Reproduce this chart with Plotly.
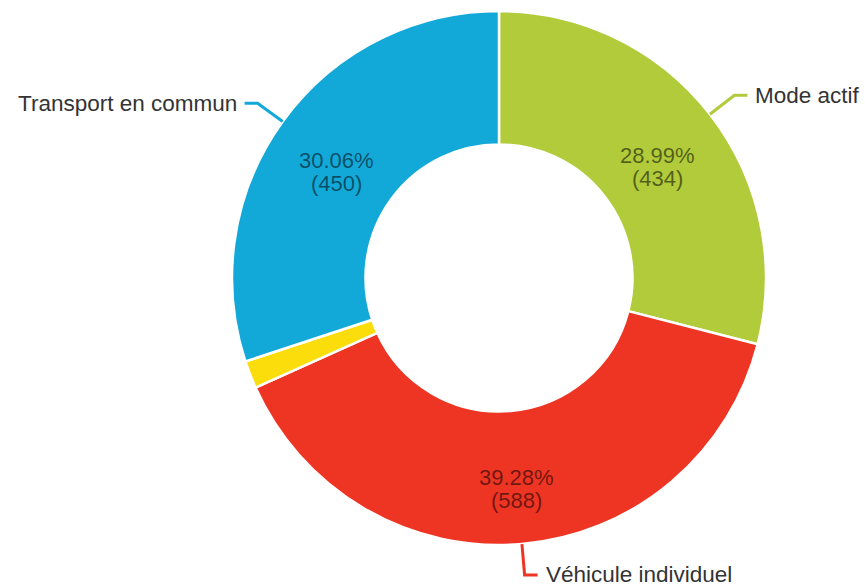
import math
import plotly.graph_objects as go

labels = ["Mode actif", "Véhicule individuel", "Autre", "Transport en commun"]
values = [434, 588, 25, 450]
colors = ["#B1CB3A", "#EE3423", "#FBDD0B", "#12A9D8"]
show_label = [True, True, False, True]

W, H = 865, 587
CX, CY, R = 499, 278, 267  # pie centre and radius in figure pixels
FONT = "Liberation Sans, Arial, sans-serif"

total = sum(values)

fig = go.Figure(go.Pie(
    labels=labels,
    values=values,
    sort=False,
    direction="clockwise",
    rotation=0,
    hole=0.5,
    marker=dict(colors=colors, line=dict(color="white", width=2.5)),
    textinfo="none",
    hoverinfo="label+value+percent",
    showlegend=False,
    domain=dict(x=[(CX - R) / W, (CX + R) / W], y=[1 - (CY + R) / H, 1 - (CY - R) / H]),
))


def px(x, y):
    return x / W, 1 - y / H


shapes = []
annotations = []
cum = 0.0
for lab, v, col, s in zip(labels, values, colors, show_label):
    mid = (cum + v / 2) / total * 2 * math.pi
    cum += v
    if not s:
        continue
    dx, dy = math.sin(mid), -math.cos(mid)
    # leader line
    x0, y0 = CX + R * dx, CY + R * dy
    x1, y1 = CX + (R + 31) * dx, CY + (R + 31) * dy
    side = 1 if dx >= 0 else -1
    x2 = x1 + side * 13
    pts = [px(x0, y0), px(x1, y1), px(x2, y1)]
    path = "M {} {} L {} {} L {} {}".format(pts[0][0], pts[0][1], pts[1][0], pts[1][1],
                                            pts[2][0], pts[2][1])
    shapes.append(dict(type="path", xref="paper", yref="paper", path=path,
                       line=dict(color=col, width=3)))
    tx, ty = px(x2 + side * 6, y1)
    annotations.append(dict(x=tx, y=ty, xref="paper", yref="paper", text=lab,
                            showarrow=False, xanchor="left" if side > 0 else "right",
                            yanchor="middle",
                            font=dict(family=FONT, size=22.5, color="#333333")))
    # inside text: percent and value
    rin = R * 0.75
    ix, iy = CX + rin * dx, CY + rin * dy
    for k, t in enumerate([f"{v / total * 100:.2f}%", f"({v})"]):
        ax, ay = px(ix, iy + k * 23)
        annotations.append(dict(x=ax, y=ay, xref="paper", yref="paper", text=t,
                                showarrow=False, xanchor="center", yanchor="middle",
                                font=dict(family=FONT, size=22, color="rgba(0,0,0,0.55)")))

fig.update_layout(
    width=W, height=H,
    margin=dict(l=0, r=0, t=0, b=0),
    paper_bgcolor="white",
    plot_bgcolor="white",
    shapes=shapes,
    annotations=annotations,
)

fig.write_html(
    "out.html",
    config={"displayModeBar": False},
    post_script="document.body.style.margin='0';document.body.style.overflow='hidden';",
)
